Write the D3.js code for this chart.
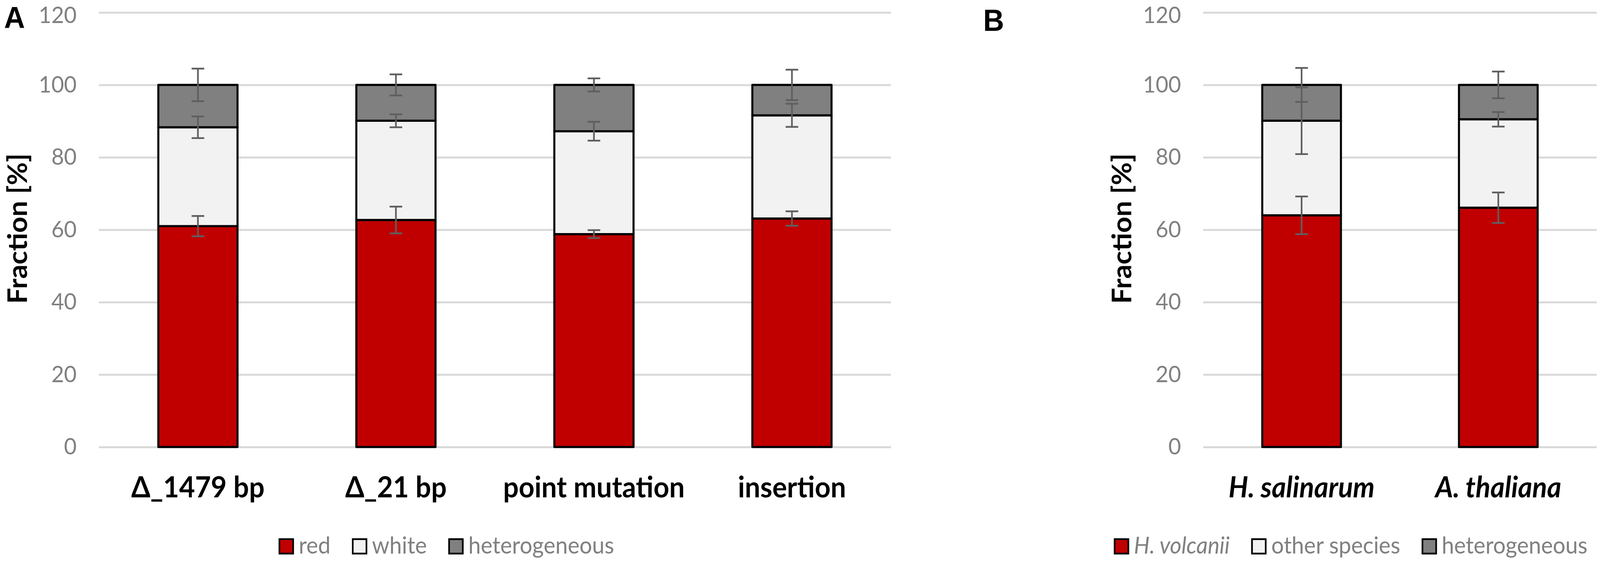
<!DOCTYPE html>
<html>
<head>
<meta charset="utf-8">
<script src="https://cdnjs.cloudflare.com/ajax/libs/d3/7.8.5/d3.min.js"></script>
<style>
  html, body { margin: 0; padding: 0; background: #fff; overflow: hidden; }
  svg { display: block; width: 100vw; height: 100vh; }
  text { font-family: Lato, 'Open Sans', sans-serif; }
</style>
</head>
<body>
<svg id="chart"></svg>
<script>
// panel A: fate of the mutated colonies
var mutationTypes = ['Δ_1479 bp', 'Δ_21 bp', 'point mutation', 'insertion'];
var redValues = [61.0, 62.7, 58.8, 63.1];
var whiteValues = [27.3, 27.4, 28.4, 28.5];
var heteroValuesA = [11.7, 9.9, 12.8, 8.4];
var redErrors = [2.8, 3.7, 1.1, 2.0];
var whiteErrors = [3.0, 1.8, 2.6, 3.2];
var heteroErrorsA = [4.5, 2.9, 1.8, 4.2];
var legendNamesA = ['red', 'white', 'heterogeneous'];

// panel B: donor species
var speciesNames = ['H. salinarum', 'A. thaliana'];
var volcaniiValues = [64.0, 66.1];
var otherValues = [26.1, 24.4];
var heteroValuesB = [9.9, 9.5];
var volcaniiErrors = [5.2, 4.2];
var otherErrors = [9.2, 2.0];
var heteroErrorsB = [4.7, 3.7];
var legendNamesB = ['H. volcanii', 'other species', 'heterogeneous'];

var yTicks = [0, 20, 40, 60, 80, 100, 120];
var yTitle = 'Fraction [%]';

var width = 4319, height = 1437;
var colors = ['#c00000', '#f2f2f2', '#808080'];

// the viewport may not be exactly 4319x1437 css px, so stretch to fill it
var svg = d3.select('#chart')
  .attr('viewBox', '0 0 ' + width + ' ' + height)
  .attr('preserveAspectRatio', 'none');

svg.append('rect')
  .attr('width', width)
  .attr('height', height)
  .attr('fill', '#fff');

var y = d3.scaleLinear().domain([0, 120]).range([1145, 32]);

function drawPanel(conf) {
  var g = svg.append('g');
  var x = d3.scaleBand()
    .domain(conf.categories)
    .range([conf.left, conf.right])
    .paddingInner(0.6)
    .paddingOuter(0.3);

  // grid + tick labels
  var yAxis = g.append('g')
    .attr('transform', 'translate(' + conf.left + ',0)')
    .call(d3.axisLeft(y).tickValues(yTicks)
      .tickSize(-(conf.right - conf.left)).tickPadding(60));
  yAxis.select('.domain').remove();
  yAxis.selectAll('line').attr('stroke', '#d9d9d9').attr('stroke-width', 5);
  yAxis.selectAll('text')
    .attr('fill', '#808080')
    .style('font-size', '59px');
  // top label sits against the edge, nudge it down a little
  yAxis.selectAll('.tick text')
    .filter(function(d) { return d === 120; })
    .attr('y', 8);

  // stacked bars
  var rows = conf.categories.map(function(c, i) {
    return { cat: c, s0: conf.series[0][i], s1: conf.series[1][i], s2: conf.series[2][i] };
  });
  var stack = d3.stack().keys(['s0', 's1', 's2'])(rows);

  g.selectAll('g.layer').data(stack).enter().append('g')
    .attr('class', 'layer')
    .attr('fill', function(d, i) { return colors[i]; })
    .selectAll('rect').data(function(d) { return d; }).enter().append('rect')
    .attr('x', function(d) { return x(d.data.cat); })
    .attr('y', function(d) { return y(d[1]); })
    .attr('width', x.bandwidth())
    .attr('height', function(d) { return y(d[0]) - y(d[1]); })
    .attr('stroke', '#000')
    .attr('stroke-width', 5.5)
    .attr('stroke-linejoin', 'round');

  // error bars at the top of every segment
  var capHalf = 17;
  stack.forEach(function(layer, li) {
    var errs = conf.errors[li];
    var eg = g.append('g')
      .attr('stroke', '#5f5f5f')
      .attr('stroke-width', 4.5);
    layer.forEach(function(d, i) {
      var cx = x(d.data.cat) + x.bandwidth() / 2;
      var hi = y(d[1] + errs[i]), lo = y(d[1] - errs[i]);
      eg.append('line').attr('x1', cx).attr('x2', cx).attr('y1', hi).attr('y2', lo);
      eg.append('line').attr('x1', cx - capHalf).attr('x2', cx + capHalf).attr('y1', hi).attr('y2', hi);
      eg.append('line').attr('x1', cx - capHalf).attr('x2', cx + capHalf).attr('y1', lo).attr('y2', lo);
    });
  });

  // category labels
  var xAxis = g.append('g')
    .attr('transform', 'translate(0,' + y(0) + ')')
    .call(d3.axisBottom(x).tickSize(0).tickPadding(76));
  xAxis.select('.domain').remove();
  xAxis.selectAll('text')
    .attr('fill', '#000')
    .style('font-size', '74px')
    .style('font-weight', 'bold')
    .style('font-style', conf.italicLabels ? 'italic' : 'normal');

  // y title
  g.append('text')
    .attr('transform', 'translate(' + (conf.left - 194) + ',' + (y(60) - 3) + ') rotate(-90)')
    .attr('text-anchor', 'middle')
    .style('font-size', '72px')
    .style('font-weight', 'bold')
    .attr('fill', '#000')
    .text(yTitle);

  // panel letter
  g.append('text')
    .attr('x', conf.letterX)
    .attr('y', conf.letterY)
    .style('font-family', "'Liberation Sans', Arial, sans-serif")
    .style('font-size', '78px')
    .style('font-weight', 'bold')
    .attr('fill', '#000')
    .text(conf.letter);

  // legend
  var lg = g.append('g');
  var cursor = 0;
  conf.legend.forEach(function(name, i) {
    var item = lg.append('g').attr('transform', 'translate(' + cursor + ',0)');
    item.append('rect')
      .attr('x', 2).attr('y', 1381)
      .attr('width', 37).attr('height', 37)
      .attr('fill', colors[i])
      .attr('stroke', '#000')
      .attr('stroke-width', 4.5);
    var t = item.append('text')
      .attr('x', 54).attr('y', 1418)
      .attr('fill', '#808080')
      .style('font-size', '60px')
      .style('font-style', (conf.italicFirstLegend && i === 0) ? 'italic' : 'normal')
      .text(name);
    cursor += 54 + t.node().getComputedTextLength() + 58;
  });
  var total = cursor - 58;
  lg.attr('transform', 'translate(' + (conf.legendCenter - total / 2) + ',0)');
}

drawPanel({
  left: 267, right: 2405,
  categories: mutationTypes,
  series: [redValues, whiteValues, heteroValuesA],
  errors: [redErrors, whiteErrors, heteroErrorsA],
  legend: legendNamesA,
  legendCenter: 1205,
  letter: 'A', letterX: 11, letterY: 72
});

drawPanel({
  left: 3248, right: 4310,
  categories: speciesNames,
  series: [volcaniiValues, otherValues, heteroValuesB],
  errors: [volcaniiErrors, otherErrors, heteroErrorsB],
  legend: legendNamesB,
  legendCenter: 3646,
  italicLabels: true,
  italicFirstLegend: true,
  letter: 'B', letterX: 2654, letterY: 79
});
</script>
</body>
</html>
